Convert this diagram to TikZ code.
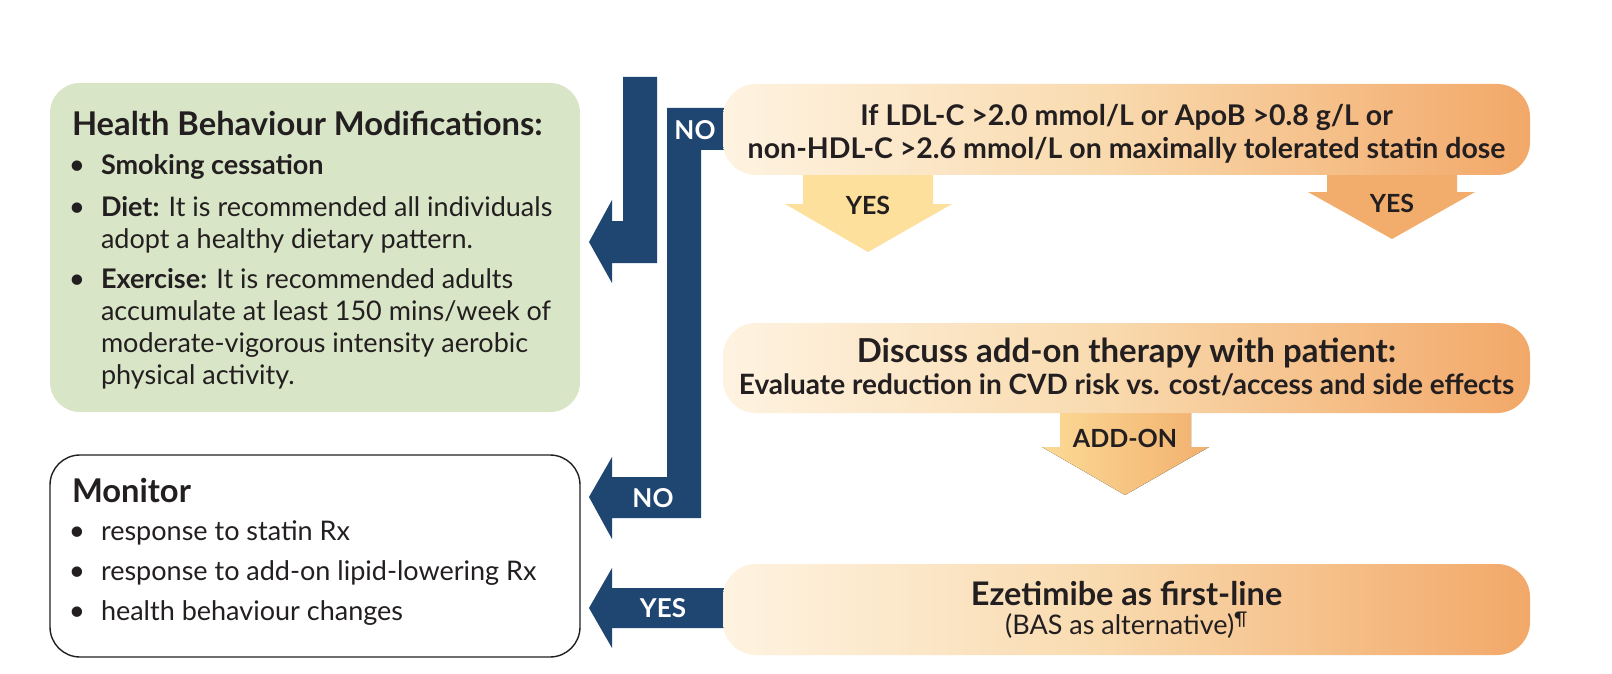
\documentclass[tikz,border=0pt]{standalone}
\usepackage{fontspec}
\setmainfont{Lato}
\definecolor{navy}{RGB}{31,69,113}
\definecolor{sage}{RGB}{217,229,199}
\definecolor{ink}{RGB}{35,31,32}
\definecolor{cream}{RGB}{254,243,225}
\definecolor{peach}{RGB}{249,219,176}
\definecolor{orng}{RGB}{242,168,104}
\definecolor{paleyel}{RGB}{253,224,156}
\definecolor{yesorng}{RGB}{242,173,108}
\definecolor{addA}{RGB}{252,218,150}
\definecolor{addB}{RGB}{242,176,110}
\pgfdeclarehorizontalshading{orangegrad}{100bp}{color(0bp)=(cream); color(25bp)=(cream); color(48bp)=(peach); color(75bp)=(orng); color(100bp)=(orng)}
\begin{document}
\begin{tikzpicture}[x=1pt,y=-1pt,
  every node/.style={inner sep=0pt, outer sep=0pt},
  txt/.style={anchor=base west, text=ink, font=\fontsize{27}{32}\selectfont},
  bul/.style={anchor=base, text=ink, font=\fontsize{28}{32}\selectfont},
  ttl/.style={anchor=base west, text=ink, font=\fontsize{32.7}{36}\selectfont\bfseries},
  ctr/.style={anchor=base, text=ink, font=\fontsize{28.5}{32}\selectfont\bfseries},
  arrowlbl/.style={text=ink, font=\fontsize{25}{28}\selectfont\bfseries},
  nolbl/.style={text=white, font=\fontsize{26}{30}\selectfont\bfseries},
  obox/.style={rounded corners=33pt, shading=orangegrad, minimum width=807pt},
]
\fill[white] (0,0) rectangle (1612,674);
\useasboundingbox (0,0) rectangle (1612,674);

% blue arrows
\fill[navy] (623,77) -- (657,77) -- (657,263) -- (612,263) -- (612,283) -- (589,242) -- (612,200) -- (612,221) -- (623,221) -- cycle;
\fill[navy] (667,108) -- (745,108) -- (745,150) -- (701,150) -- (701,518) -- (612,518) -- (612,539) -- (589,497) -- (612,457) -- (612,477) -- (667,477) -- cycle;
\fill[navy] (745,588) -- (745,628) -- (612,628) -- (612,648) -- (589,608) -- (612,568) -- (612,588) -- cycle;

% orange down arrows
\fill[paleyel] (803,165) -- (933,165) -- (933,204) -- (952,204) -- (868,252) -- (785,204) -- (803,204) -- cycle;
\fill[yesorng] (1327,165) -- (1457,165) -- (1457,192) -- (1475,192) -- (1392,239) -- (1308,192) -- (1327,192) -- cycle;
\fill[left color=addA, right color=addB] (1060,405) -- (1191,405) -- (1191,447) -- (1209,447) -- (1125,495) -- (1042,447) -- (1060,447) -- cycle;

% boxes
\node[fill=sage, rounded corners=30pt, minimum width=530pt, minimum height=329pt] (hbm) at (315,247.5) {};
\node[draw=ink, line width=1.4pt, fill=white, rounded corners=30pt, minimum width=530pt, minimum height=202pt] (mon) at (315,556) {};
\node[obox, minimum height=91pt] (cond) at (1126.5,129.5) {};
\node[obox, minimum height=90pt] (disc) at (1126.5,368) {};
\node[obox, minimum height=91pt] (ezet) at (1126.5,609.5) {};

% green box text
\node[ttl] (hbmT) at (72,136) {Health Behaviour Modifications:};
\node[bul] (hb1) at (77,175) {•};
\node[txt] (hb1t) at (101,175) {\textbf{Smoking cessation}};
\node[bul] (hb2) at (77,216) {•};
\node[txt] (hb2t) at (101,216) {\textbf{Diet:} It is recommended all individuals};
\node[txt] (hb2u) at (101,248) {adopt a healthy dietary pattern.};
\node[bul] (hb3) at (77,288) {•};
\node[txt] (hb3t) at (101,288) {\textbf{Exercise:} It is recommended adults};
\node[txt] (hb3u) at (101,320) {accumulate at least 150 mins/week of};
\node[txt] (hb3v) at (101,352) {moderate-vigorous intensity aerobic};
\node[txt] (hb3w) at (101,384) {physical activity.};

% monitor text
\node[ttl] (monT) at (72,502) {Monitor};
\node[bul] (m1) at (77,540) {•};
\node[txt] (m1t) at (101,540) {response to statin Rx};
\node[bul] (m2) at (77,580) {•};
\node[txt] (m2t) at (101,580) {response to add-on lipid-lowering Rx};
\node[bul] (m3) at (77,620) {•};
\node[txt] (m3t) at (101,620) {health behaviour changes};

% orange box text
\node[ctr] (c1) at (1126.5,126) {If LDL-C >2.0 mmol/L or ApoB >0.8 g/L or};
\node[ctr] (c2) at (1126.5,158) {non-HDL-C >2.6 mmol/L on maximally tolerated statin dose};
\node[ctr, font=\fontsize{33}{36}\selectfont\bfseries] (d1) at (1126.5,362) {Discuss add-on therapy with patient:};
\node[ctr, font=\fontsize{28}{32}\selectfont\bfseries] (d2) at (1126.5,394) {Evaluate reduction in CVD risk vs. cost/access and side effects};
\node[ctr, font=\fontsize{32.5}{36}\selectfont\bfseries] (e1) at (1126.5,605) {Ezetimibe as first-line};
\node[ctr, font=\fontsize{27}{30}\selectfont] (e2) at (1126.5,634.5) {(BAS as alternative)\textsuperscript{¶}};

% arrow labels
\node[nolbl] (no1) at (695,130) {NO};
\node[nolbl] (no2) at (653,498) {NO};
\node[nolbl] (yes3) at (663,608) {YES};
\node[arrowlbl] (yes1) at (868,205) {YES};
\node[arrowlbl] (yes2) at (1392,203) {YES};
\node[arrowlbl] (addon) at (1125,438) {ADD-ON};
\end{tikzpicture}
\end{document}
